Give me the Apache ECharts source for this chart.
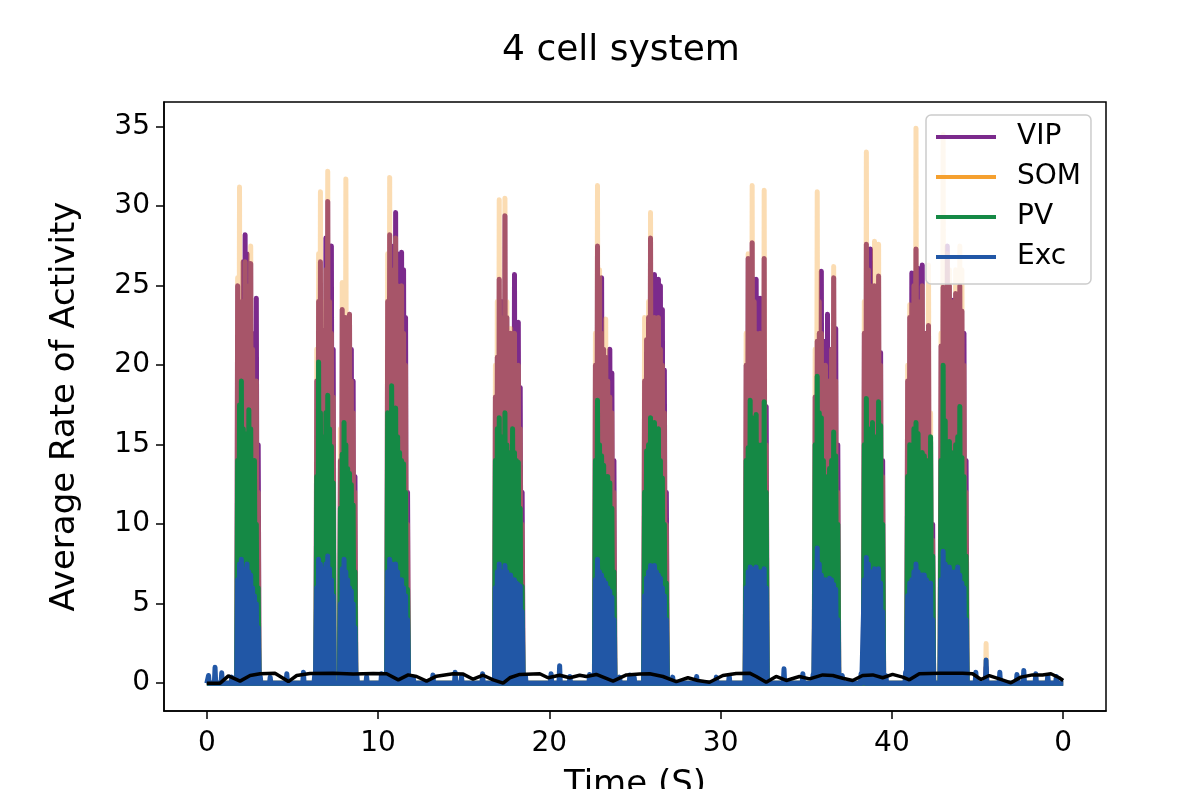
<!DOCTYPE html>
<html>
<head>
<meta charset="utf-8">
<script src="https://cdn.jsdelivr.net/npm/echarts@6/dist/echarts.min.js"></script>
<style>
  html, body { margin: 0; padding: 0; background: #fff; }
  #chart { width: 1185px; height: 789px; }
</style>
</head>
<body>
<div id="chart"></div>
<script>
// tick values and labels (last tick at 50 is labelled "0" in the original)
const xTicks = [0, 10, 20, 30, 40, 50];
const xTickLabels = ['0', '10', '20', '30', '40', '0'];
const yTicks = [0, 5, 10, 15, 20, 25, 30, 35];

// start / end time (s) of every burst of activity
const burstSpan = [
  [1.80, 3.00], [6.42, 7.38], [7.80, 8.65], [10.56, 11.72], [16.85, 18.41],
  [22.69, 23.77], [25.56, 26.83], [31.49, 32.66], [35.52, 36.84], [38.39, 39.46],
  [40.92, 42.38], [42.87, 44.33]
];

// peak rates read across each burst, one row per burst
const vipPeaks = [
  [25.0, 24.0, 23.5, 26.5, 28.2, 27.0, 26.0, 26.4, 22.0, 19.5, 24.2, 15.0],
  [19.0, 24.0, 26.5, 22.0, 22.2, 28.0, 30.3, 26.0, 27.5, 21.0],
  [14.0, 23.5, 22.5, 23.0, 22.0, 23.2, 21.0, 19.0, 13.0],
  [24.0, 28.2, 27.5, 25.0, 29.6, 27.0, 24.0, 27.1, 26.0, 23.0, 12.0],
  [18.0, 20.5, 25.4, 22.0, 24.0, 29.4, 23.0, 22.0, 22.0, 20.0, 25.7, 21.0, 22.7, 18.6, 12.0],
  [20.0, 27.5, 24.0, 25.5, 21.0, 20.5, 20.0, 21.0, 19.5, 14.0],
  [19.0, 21.6, 23.0, 28.0, 24.0, 25.7, 24.5, 25.4, 25.0, 23.5, 19.7, 12.0],
  [20.0, 26.7, 26.0, 27.7, 24.0, 25.4, 22.0, 24.2, 22.0, 26.7, 17.4],
  [18.0, 21.5, 22.0, 25.9, 21.0, 21.5, 23.2, 20.0, 21.0, 25.5, 22.3, 15.0],
  [22.0, 27.6, 25.0, 27.3, 24.0, 25.0, 23.0, 25.6, 20.8, 14.0],
  [19.0, 23.0, 25.8, 24.0, 27.3, 26.1, 23.0, 26.3, 22.0, 22.0, 22.5, 15.2, 10.0],
  [21.2, 24.9, 24.0, 27.5, 25.0, 24.1, 23.0, 24.5, 22.0, 25.0, 23.4, 22.0, 14.0]
];
const somPeaks = [
  [25.5, 31.2, 22.0, 24.0, 26.5, 25.0, 23.0, 27.5, 21.0, 18.0, 19.0, 12.0],
  [21.0, 27.0, 30.9, 24.0, 22.0, 26.0, 32.2, 24.0, 22.0, 18.0],
  [16.0, 25.2, 22.0, 31.7, 21.0, 23.2, 19.0, 17.0, 12.0],
  [27.0, 31.8, 26.0, 24.0, 28.0, 25.0, 23.0, 25.0, 22.0, 20.0, 10.0],
  [20.0, 24.0, 30.4, 23.0, 22.0, 30.5, 24.0, 20.0, 22.3, 20.0, 22.0, 19.0, 20.0, 16.0, 10.0],
  [22.0, 31.3, 26.0, 22.0, 20.0, 22.9, 19.0, 18.0, 17.0, 12.0],
  [23.0, 22.0, 24.0, 29.6, 23.0, 23.0, 22.0, 23.0, 21.0, 20.0, 17.0, 10.0],
  [22.0, 27.0, 25.0, 31.3, 24.0, 22.0, 21.0, 22.0, 21.0, 31.0, 15.0],
  [21.0, 30.9, 24.0, 22.0, 20.0, 20.0, 19.0, 19.0, 21.0, 26.2, 19.0, 12.0],
  [24.0, 33.4, 26.0, 25.0, 24.0, 27.8, 22.0, 27.6, 20.0, 13.0],
  [20.0, 23.8, 22.0, 25.0, 34.9, 24.0, 22.0, 25.0, 22.0, 20.0, 26.3, 17.0, 9.0],
  [22.0, 34.5, 25.0, 27.0, 26.0, 24.0, 22.0, 26.0, 23.0, 27.5, 26.0, 20.0, 12.0]
];
const pvPeaks = [
  [14.0, 17.5, 19.0, 16.0, 15.7, 15.0, 17.2, 16.0, 13.0, 14.0, 10.0, 6.0],
  [13.0, 20.2, 17.0, 15.5, 15.5, 17.0, 18.1, 16.0, 14.9, 12.6],
  [11.0, 14.4, 16.4, 15.0, 13.5, 13.2, 12.5, 11.2, 7.0],
  [17.0, 16.0, 18.7, 15.0, 17.3, 15.5, 14.5, 14.0, 13.8, 12.0, 5.9],
  [14.0, 16.0, 16.7, 15.0, 15.5, 17.0, 15.0, 14.5, 14.0, 16.0, 14.5, 14.0, 13.9, 11.0, 6.1],
  [14.0, 17.8, 15.0, 14.3, 13.7, 13.0, 13.0, 12.6, 11.0, 7.0],
  [12.0, 14.6, 15.0, 16.7, 15.5, 16.4, 15.0, 16.0, 14.0, 12.9, 10.0, 6.3],
  [14.0, 14.8, 17.8, 16.7, 15.0, 16.9, 15.0, 14.0, 15.0, 17.7, 12.0],
  [15.0, 19.3, 17.0, 16.7, 14.0, 13.0, 12.8, 13.5, 14.0, 15.8, 14.3, 10.0],
  [15.0, 17.9, 16.0, 15.5, 16.4, 15.0, 15.5, 17.7, 16.2, 10.0],
  [13.0, 15.0, 14.5, 16.0, 16.4, 15.7, 14.0, 14.5, 14.3, 13.0, 14.0, 15.5, 8.0],
  [14.0, 20.0, 16.5, 15.0, 15.2, 14.5, 14.0, 15.0, 15.5, 17.4, 14.2, 13.0, 8.0]
];
const excPeaks = [
  [6.5, 7.5, 7.8, 7.2, 7.0, 7.5, 7.0, 6.8, 6.0, 5.5, 5.0, 3.5],
  [6.0, 7.8, 7.5, 7.0, 7.2, 7.5, 8.0, 7.2, 6.5, 5.5],
  [5.0, 7.2, 7.8, 7.0, 6.5, 6.0, 5.8, 5.0, 3.5],
  [7.0, 7.8, 7.5, 7.0, 7.5, 7.0, 6.5, 6.5, 6.0, 5.5, 4.0],
  [6.0, 7.0, 7.5, 7.0, 7.0, 7.4, 7.0, 6.5, 6.8, 6.5, 6.5, 6.3, 6.2, 6.1, 4.5],
  [6.5, 7.8, 7.0, 6.8, 6.5, 6.3, 6.0, 5.8, 5.4, 4.0],
  [5.5, 6.6, 7.0, 7.4, 7.0, 7.4, 7.0, 6.8, 6.6, 6.0, 5.5, 4.0],
  [6.0, 7.0, 7.3, 7.2, 7.0, 7.3, 7.0, 7.0, 7.0, 7.2, 6.0],
  [7.0, 8.5, 7.5, 6.8, 6.5, 6.5, 6.3, 6.6, 6.5, 6.2, 5.9, 4.0],
  [6.5, 7.9, 7.5, 7.0, 7.0, 7.2, 7.0, 7.2, 6.3, 4.5],
  [5.5, 6.3, 6.5, 7.0, 7.5, 7.0, 6.8, 6.8, 6.8, 6.5, 6.3, 6.3, 4.0],
  [6.5, 8.3, 7.5, 7.0, 7.3, 7.0, 6.8, 7.0, 7.3, 6.8, 6.3, 6.0, 4.0]
];

// small isolated blips between bursts [time, rate]
const excBumps = [
  [0.1, 0.48], [0.48, 1.0], [0.87, 0.65], [1.46, 0.38], [3.12, 0.42], [3.7, 0.38],
  [4.67, 0.59], [5.64, 0.69], [6.3, 0.52], [8.76, 0.48], [9.33, 0.42], [10.2, 0.59],
  [12.05, 0.38], [13.2, 0.52], [14.5, 0.69], [14.87, 0.42], [16.1, 0.59], [18.6, 0.48],
  [20.1, 0.6], [20.6, 1.1], [21.2, 0.42], [22.35, 0.55], [24.1, 0.38], [24.7, 0.52],
  [24.95, 0.38], [27.2, 0.38], [28.6, 0.42], [29.75, 0.38], [30.5, 0.48], [33.7, 0.9],
  [34.8, 0.59], [35.4, 0.55], [37.1, 0.48], [38.2, 0.59], [39.65, 0.48], [40.8, 0.69],
  [44.9, 0.69], [45.5, 1.45], [46.3, 0.69], [47.3, 0.55], [47.7, 0.8], [48.4, 0.59],
  [49.1, 0.48], [49.6, 0.42]
];
const somBumps = [[45.5, 2.5]];
const vipBumps = [[45.5, 1.0]];
const pvBumps = [];

// population mean (black line)
const meanTime = [0, 0.78, 1.26, 1.94, 2.53, 3.11, 3.98, 4.76, 5.25, 6.02, 7.38, 8.55, 9.72, 10.5,
  11.18, 11.76, 12.25, 12.83, 13.41, 14.38, 14.97, 15.55, 16.13, 16.72, 17.3, 17.69, 18.27,
  19.44, 19.92, 20.6, 21.19, 21.77, 22.16, 22.74, 23.72, 24.5, 25.27, 25.86, 26.63, 27.41,
  28.09, 28.67, 29.35, 30.13, 30.91, 31.69, 32.08, 32.66, 33.24, 33.83, 34.6, 35.19, 35.96,
  36.55, 37.13, 37.71, 38.29, 38.88, 39.46, 40.04, 40.63, 41.02, 41.6, 42.77, 44.13, 44.71,
  45.2, 45.68, 46.27, 46.95, 47.53, 48.21, 48.79, 49.28, 49.77, 50];
const meanRate = [0, 0, 0.46, 0.13, 0.48, 0.59, 0.63, 0.1, 0.48, 0.61, 0.63, 0.57, 0.61, 0.59,
  0.21, 0.52, 0.42, 0.13, 0.44, 0.59, 0.57, 0.25, 0.5, 0.21, 0.0, 0.34, 0.55,
  0.59, 0.34, 0.5, 0.34, 0.5, 0.42, 0.55, 0.13, 0.52, 0.57, 0.59, 0.42, 0.1,
  0.34, 0.17, 0.06, 0.48, 0.61, 0.63, 0.42, 0.06, 0.42, 0.17, 0.42, 0.27, 0.52,
  0.48, 0.31, 0.17, 0.48, 0.52, 0.34, 0.55, 0.38, 0.21, 0.59, 0.63, 0.63, 0.59,
  0.23, 0.48, 0.27, 0.02, 0.38, 0.52, 0.52, 0.59, 0.34, 0.17];

const floorRate = 0;

// rapid oscillation: each peak is followed by a drop back to the floor
function spikeTrain(peaks, bumps) {
  let pts = [[0, floorRate], [50, floorRate]];
  burstSpan.forEach(function (span, b) {
    let vals = peaks[b];
    let step = (span[1] - span[0]) / (vals.length - 1);
    pts.push([span[0] - step / 2, floorRate]);
    vals.forEach(function (v, i) {
      let t = span[0] + i * step;
      pts.push([t, v]);
      pts.push([t + step / 2, floorRate]);
    });
  });
  bumps.forEach(function (b) {
    pts.push([b[0] - 0.04, floorRate], [b[0], b[1]], [b[0] + 0.04, floorRate]);
  });
  pts.sort(function (a, b) { return a[0] - b[0]; });
  return pts;
}

(function () {
  let myChart = echarts.init(document.getElementById('chart'));
  const font = 'DejaVu Sans';

  function cell(name, color, peaks, bumps, opacity) {
    return {
      name: name,
      type: 'line',
      data: spikeTrain(peaks, bumps),
      symbol: 'none',
      showSymbol: false,
      lineStyle: { color: color, width: 5, opacity: opacity, join: 'round' },
      itemStyle: { color: color },
      emphasis: { disabled: true }
    };
  }

  let option = {
    animation: false,
    backgroundColor: '#fff',
    title: {
      text: '4 cell system',
      left: 616,
      top: 28,
      textAlign: 'center',
      textStyle: { fontFamily: font, fontSize: 36, fontWeight: 'normal', color: '#000' }
    },
    legend: {
      orient: 'vertical',
      left: 926,
      top: 115,
      padding: [8, 10, 13, 10],
      icon: 'rect',
      itemWidth: 60,
      itemHeight: 4,
      itemGap: 12,
      backgroundColor: 'rgba(255,255,255,0.8)',
      borderColor: '#cccccc',
      borderWidth: 1.5,
      borderRadius: 5,
      textStyle: { fontFamily: font, fontSize: 28, lineHeight: 28, color: '#000', padding: [0, 0, 0, 16] },
      data: [
        { name: 'VIP' },
        { name: 'SOM', itemStyle: { opacity: 1 } },
        { name: 'PV' },
        { name: 'Exc' }
      ]
    },
    grid: {
      left: 164,
      right: 79,
      top: 102,
      bottom: 78,
      outerBoundsMode: 'none',
      show: true,
      borderColor: '#000',
      borderWidth: 1.5,
      backgroundColor: 'transparent'
    },
    xAxis: {
      type: 'value',
      min: -2.5,
      max: 52.5,
      name: 'Time (S)',
      nameLocation: 'middle',
      nameGap: 57,
      nameTextStyle: { fontFamily: font, fontSize: 34, color: '#000' },
      axisLine: { show: true, onZero: false, lineStyle: { color: '#000', width: 1.5 } },
      axisTick: { show: true, length: 8, lineStyle: { color: '#000', width: 1.5 }, customValues: xTicks },
      axisLabel: {
        fontFamily: font, fontSize: 28, color: '#000', margin: 19,
        customValues: xTicks,
        formatter: function (v) { return xTickLabels[xTicks.indexOf(v)]; }
      },
      splitLine: { show: false }
    },
    yAxis: {
      type: 'value',
      min: -1.75,
      max: 36.55,
      name: 'Average Rate of Activity',
      nameLocation: 'middle',
      nameGap: 82,
      nameTextStyle: { fontFamily: font, fontSize: 34, color: '#000' },
      axisLine: { show: true, onZero: false, lineStyle: { color: '#000', width: 1.5 } },
      axisTick: { show: true, length: 8, lineStyle: { color: '#000', width: 1.5 }, customValues: yTicks },
      axisLabel: { fontFamily: font, fontSize: 28, color: '#000', margin: 14, customValues: yTicks },
      splitLine: { show: false }
    },
    series: [
      cell('VIP', '#7B2A8C', vipPeaks, vipBumps, 1),
      cell('SOM', '#F5A02F', somPeaks, somBumps, 0.37),
      cell('PV', '#158945', pvPeaks, pvBumps, 1),
      cell('Exc', '#2157A6', excPeaks, excBumps, 1),
      {
        name: 'mean',
        type: 'line',
        data: meanTime.map(function (t, i) { return [t, meanRate[i]]; }),
        symbol: 'none',
        showSymbol: false,
        lineStyle: { color: '#000', width: 3.5 },
        emphasis: { disabled: true }
      }
    ]
  };
  myChart.setOption(option);

  window.addEventListener('resize', function () {
    myChart.resize();
  });
})();
</script>
</body>
</html>
